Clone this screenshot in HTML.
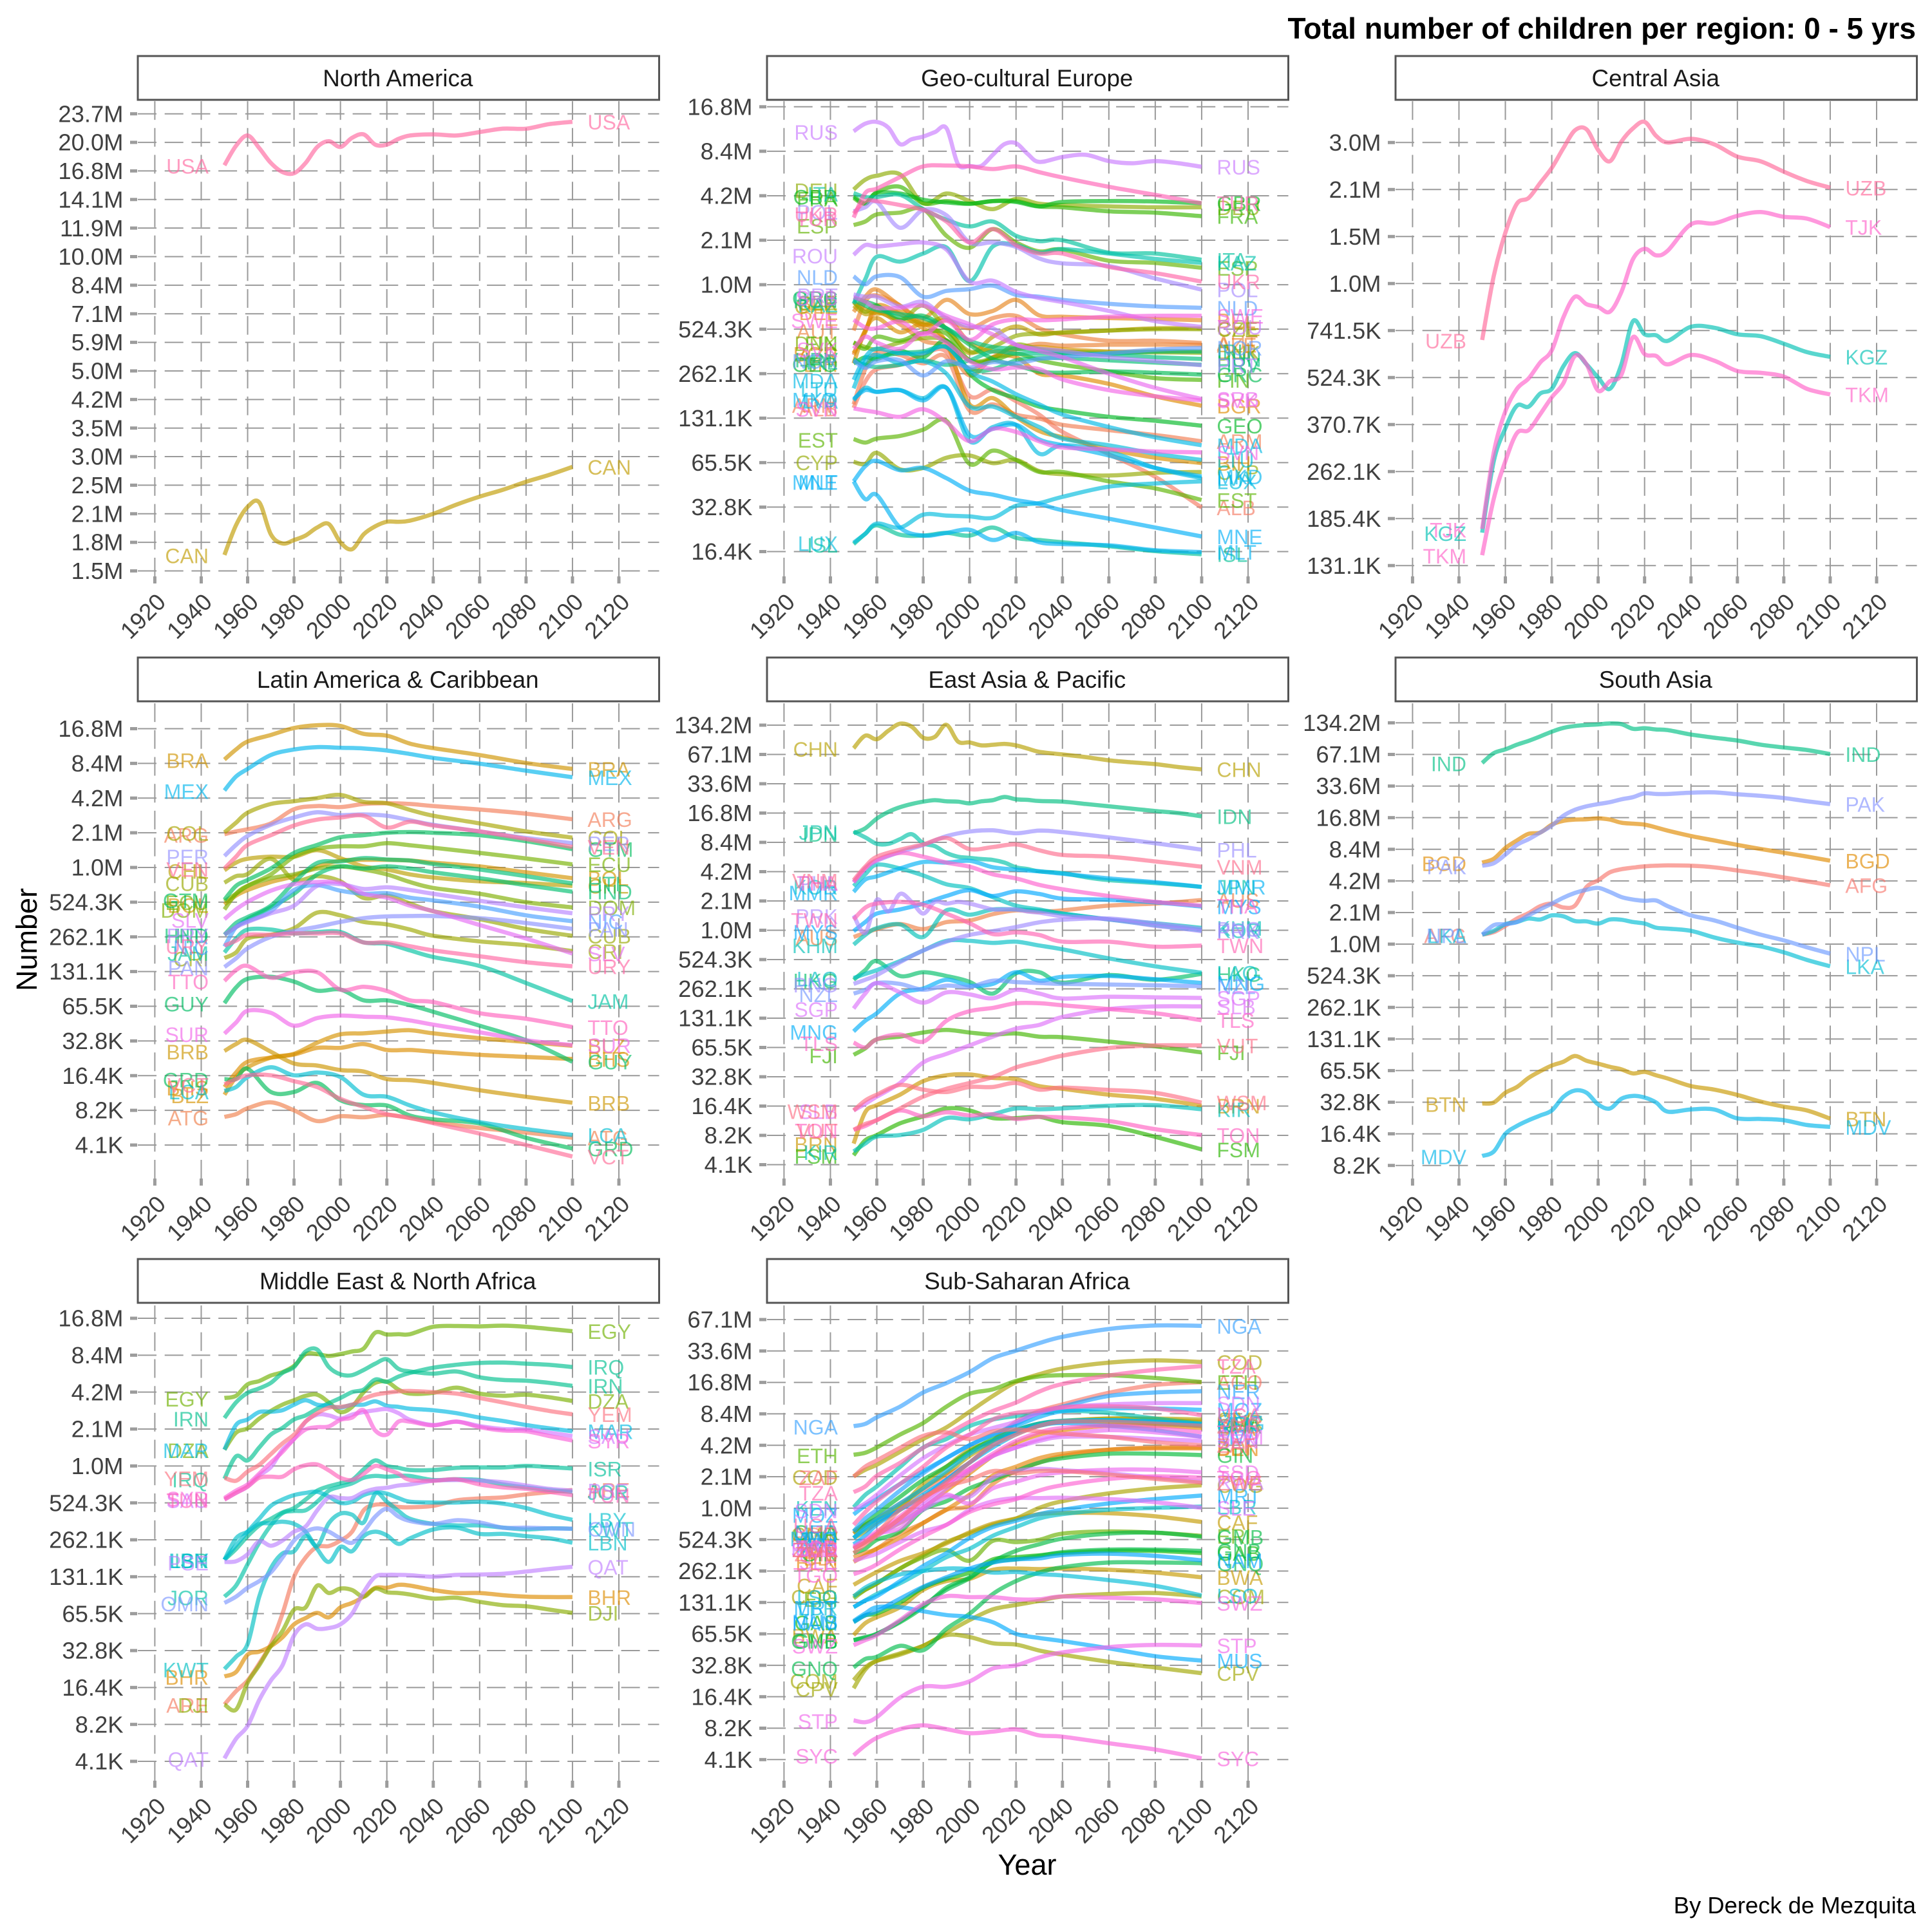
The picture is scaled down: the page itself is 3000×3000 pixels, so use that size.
<!DOCTYPE html>
<html lang="en">
<head>
<meta charset="utf-8">
<title>Total number of children per region: 0 - 5 yrs</title>
<style>
html,body{margin:0;padding:0;background:#fff;}
svg{display:block;font-family:"Liberation Sans",Arial,sans-serif;}
</style>
</head>
<body>
<svg id="chart" xmlns="http://www.w3.org/2000/svg" width="3000" height="3000" viewBox="0 0 3000 3000">
<rect x="0" y="0" width="3000" height="3000" fill="#ffffff"/>
<text x="2975" y="60" text-anchor="end" font-size="46" font-weight="700" fill="#000">Total number of children per region: 0 - 5 yrs</text>
<text transform="translate(57,1459) rotate(-90)" text-anchor="middle" font-size="45" fill="#000">Number</text>
<text x="1595" y="2911" text-anchor="middle" font-size="45" fill="#000">Year</text>
<text x="2975" y="2971" text-anchor="end" font-size="36.4" fill="#000">By Dereck de Mezquita</text>
</svg>
<script>
const yearsFine = [1950,1955,1960,1965,1970,1975,1980,1985,1990,1995,2000,2005,2010,2015,2020,2025,2030,2040,2050,2060,2070,2080,2090,2100];
const yearsCoarse = [1950,1955,1960,1970,1980,1990,2000,2010,2020,2030,2040,2060,2080,2100];
const xTickYears = [1920,1940,1960,1980,2000,2020,2040,2060,2080,2100,2120];

const ticksNorthAmerica = ['23.7M','20.0M','16.8M','14.1M','11.9M','10.0M','8.4M','7.1M','5.9M','5.0M','4.2M','3.5M','3.0M','2.5M','2.1M','1.8M','1.5M'];
const ticksEurope = ['16.8M','8.4M','4.2M','2.1M','1.0M','524.3K','262.1K','131.1K','65.5K','32.8K','16.4K'];
const ticksCentralAsia = ['3.0M','2.1M','1.5M','1.0M','741.5K','524.3K','370.7K','262.1K','185.4K','131.1K'];
const ticksLatinAmerica = ['16.8M','8.4M','4.2M','2.1M','1.0M','524.3K','262.1K','131.1K','65.5K','32.8K','16.4K','8.2K','4.1K'];
const ticksEastAsia = ['134.2M','67.1M','33.6M','16.8M','8.4M','4.2M','2.1M','1.0M','524.3K','262.1K','131.1K','65.5K','32.8K','16.4K','8.2K','4.1K'];
const ticksSouthAsia = ['134.2M','67.1M','33.6M','16.8M','8.4M','4.2M','2.1M','1.0M','524.3K','262.1K','131.1K','65.5K','32.8K','16.4K','8.2K'];
const ticksMiddleEast = ['16.8M','8.4M','4.2M','2.1M','1.0M','524.3K','262.1K','131.1K','65.5K','32.8K','16.4K','8.2K','4.1K'];
const ticksSubSaharan = ['67.1M','33.6M','16.8M','8.4M','4.2M','2.1M','1.0M','524.3K','262.1K','131.1K','65.5K','32.8K','16.4K','8.2K','4.1K'];

const seriesNorthAmerica = {
CAN:[20.64,20.9,21.06,21.1,20.82,20.74,20.77,20.81,20.88,20.91,20.75,20.69,20.82,20.89,20.93,20.93,20.94,21.0,21.08,21.15,21.21,21.28,21.34,21.41],
USA:[24.05,24.22,24.31,24.2,24.07,23.99,23.98,24.07,24.21,24.26,24.21,24.29,24.32,24.23,24.23,24.28,24.31,24.32,24.31,24.34,24.37,24.37,24.41,24.43]
};

const seriesCentralAsia = {
KGZ:[17.35,18.11,18.46,18.7,18.69,18.83,18.88,19.12,19.26,19.14,19.0,18.88,19.14,19.6,19.46,19.45,19.39,19.54,19.53,19.46,19.44,19.36,19.27,19.22],
TJK:[17.39,18.2,18.64,18.88,18.99,19.16,19.29,19.64,19.86,19.78,19.75,19.7,19.91,20.26,20.37,20.3,20.35,20.63,20.64,20.72,20.76,20.71,20.69,20.6],
TKM:[17.11,17.71,18.11,18.41,18.44,18.61,18.79,18.94,19.23,19.14,18.86,18.96,19.03,19.43,19.25,19.23,19.14,19.24,19.18,19.07,19.05,19.01,18.88,18.82],
UZB:[19.4,20.08,20.54,20.85,20.91,21.07,21.23,21.44,21.63,21.64,21.42,21.3,21.51,21.65,21.72,21.57,21.5,21.54,21.48,21.35,21.3,21.19,21.09,21.02]
};

const seriesSouthAsia = {
AFG:[20.3,20.38,20.58,20.81,20.98,21.2,21.28,21.16,21.22,21.81,22.02,22.27,22.37,22.42,22.46,22.48,22.49,22.48,22.43,22.33,22.23,22.11,21.99,21.86],
BGD:[22.58,22.7,23.04,23.28,23.49,23.53,23.78,23.9,23.94,23.95,23.98,23.94,23.84,23.81,23.78,23.69,23.59,23.42,23.28,23.14,23.01,22.89,22.77,22.64],
BTN:[14.96,14.99,15.3,15.48,15.77,15.98,16.16,16.28,16.46,16.31,16.22,16.12,16.04,15.91,15.96,15.85,15.75,15.51,15.4,15.23,15.02,14.86,14.74,14.48],
IND:[25.73,26.04,26.16,26.31,26.43,26.57,26.72,26.84,26.9,26.93,26.95,26.98,26.96,26.81,26.83,26.79,26.77,26.63,26.53,26.44,26.31,26.22,26.14,26.01],
LKA:[20.3,20.42,20.63,20.7,20.81,20.78,20.91,20.88,20.73,20.72,20.65,20.78,20.77,20.7,20.65,20.52,20.49,20.42,20.21,20.05,19.93,19.74,19.5,19.3],
MDV:[13.3,13.44,14.0,14.25,14.43,14.58,14.74,15.17,15.37,15.3,14.93,14.8,15.11,15.2,15.15,14.99,14.7,14.77,14.77,14.49,14.47,14.43,14.28,14.22],
NPL:[20.3,20.6,20.63,20.7,20.91,21.1,21.28,21.47,21.62,21.72,21.78,21.65,21.49,21.41,21.37,21.38,21.2,20.91,20.75,20.52,20.3,20.12,19.9,19.7],
PAK:[22.48,22.56,22.83,23.14,23.32,23.53,23.75,24.06,24.25,24.36,24.43,24.49,24.58,24.65,24.77,24.75,24.75,24.79,24.8,24.74,24.69,24.62,24.52,24.43]
};

const seriesMiddleEast = {
ARE:[13.54,13.9,14.19,14.65,15.18,16.0,17.0,17.52,17.81,17.83,17.98,18.22,18.8,18.95,18.95,18.89,18.88,18.92,19.07,19.12,19.15,19.23,19.29,19.35],
BHR:[14.3,14.42,14.89,14.97,15.12,15.36,15.71,15.88,16.02,15.9,16.17,16.29,16.46,16.7,16.7,16.78,16.76,16.64,16.56,16.56,16.5,16.46,16.45,16.45],
DJI:[13.54,13.4,14.13,14.6,15.12,15.53,16.11,16.17,16.76,16.56,16.68,16.64,16.46,16.68,16.58,16.56,16.52,16.41,16.43,16.32,16.23,16.2,16.11,16.02],
DZA:[20.44,20.9,21.02,21.28,21.49,21.66,21.78,21.9,21.93,21.72,21.46,21.6,22.0,22.25,22.28,22.07,21.96,21.98,22.12,21.96,21.9,21.93,21.86,21.76],
EGY:[21.84,21.9,22.21,22.3,22.45,22.54,22.71,23.03,23.03,22.98,23.03,23.1,23.18,23.61,23.56,23.57,23.57,23.77,23.79,23.78,23.8,23.77,23.71,23.65],
IRN:[21.3,21.72,21.98,22.1,22.25,22.52,22.68,23.1,23.15,22.68,22.48,22.46,22.6,22.77,22.89,22.63,22.56,22.5,22.56,22.4,22.33,22.31,22.25,22.17],
IRQ:[19.65,20.26,20.15,20.5,20.85,21.03,21.26,21.37,21.55,21.7,21.84,22.0,22.07,22.34,22.28,22.42,22.52,22.66,22.74,22.79,22.8,22.77,22.74,22.68],
ISR:[17.46,17.75,18.1,18.39,18.57,18.74,18.86,19.09,19.33,19.45,19.53,19.62,19.91,20.15,20.0,19.95,19.89,19.89,19.95,19.96,19.96,20.0,19.97,19.93],
JOR:[16.46,16.76,17.34,17.92,18.39,18.72,18.78,18.8,19.03,19.33,19.44,19.53,19.68,19.73,19.71,19.73,19.73,19.62,19.64,19.62,19.5,19.42,19.35,19.29],
KWT:[14.5,14.83,15.18,16.46,17.23,17.63,17.69,18.1,17.84,18.45,18.71,18.68,18.47,19.25,19.03,18.78,18.57,18.43,18.39,18.39,18.33,18.28,18.31,18.3],
LBN:[17.46,18.04,18.22,18.43,18.45,18.49,18.43,18.22,17.75,17.4,17.81,17.69,18.1,18.22,18.12,17.89,18.04,18.28,18.33,18.16,18.16,18.1,18.04,17.92],
LBY:[17.46,17.85,18.22,18.57,18.92,19.09,19.21,19.27,19.3,19.17,19.0,19.03,19.21,19.29,19.25,19.13,19.03,19.01,19.01,19.03,18.98,18.86,18.68,18.54],
MAR:[20.44,21.11,21.26,21.46,21.47,21.51,21.66,21.78,21.66,21.63,21.58,21.66,21.66,21.75,21.63,21.6,21.55,21.51,21.43,21.31,21.22,21.11,21.02,20.94],
OMN:[16.29,16.46,16.7,16.88,17.12,17.52,17.98,18.22,18.31,18.22,18.04,17.92,18.22,18.63,18.84,18.63,18.51,18.43,18.53,18.47,18.33,18.33,18.31,18.3],
PSE:[17.4,17.42,17.61,17.96,17.84,17.98,18.22,18.36,18.8,19.15,19.13,19.13,19.29,19.38,19.41,19.47,19.5,19.6,19.62,19.6,19.56,19.47,19.38,19.33],
QAT:[12.08,12.61,12.96,13.66,14.19,14.6,15.41,15.71,15.59,15.61,15.71,16.0,16.58,17.0,17.05,17.05,17.04,17.0,17.05,17.06,17.08,17.14,17.21,17.27],
SAU:[19.09,19.27,19.44,19.74,19.97,20.44,20.73,21.2,21.39,21.37,21.28,21.39,21.46,21.51,21.54,21.43,21.25,21.11,21.2,21.08,21.0,20.99,20.9,20.81],
SYR:[19.13,19.33,19.5,19.79,20.09,20.38,20.73,20.99,21.05,21.07,21.25,21.31,21.51,20.96,20.85,21.2,21.2,21.1,21.2,21.05,20.96,20.94,20.81,20.69],
TUN:[19.09,19.27,19.44,19.68,19.71,19.71,19.91,20.02,20.04,19.88,19.68,19.62,19.79,20.0,19.91,19.79,19.62,19.6,19.64,19.5,19.42,19.38,19.3,19.21],
YEM:[19.68,19.6,19.85,20.03,20.32,20.61,20.85,21.2,21.43,21.58,21.6,21.66,21.82,21.93,21.98,22.02,22.03,22.0,21.96,21.84,21.72,21.6,21.49,21.4]
};

const seriesLatinAmerica = {
ARG:[20.96,21.04,21.1,21.27,21.68,21.77,21.74,21.83,21.85,21.83,21.77,21.67,21.55,21.39],
ATG:[12.81,12.89,13.06,13.23,13.0,12.69,12.83,12.8,12.87,12.78,12.66,12.49,12.36,12.21],
BHS:[13.67,14.09,14.4,14.52,14.61,14.8,14.8,14.91,14.74,14.74,14.69,14.6,14.54,14.48],
BLZ:[13.45,13.96,14.24,14.52,14.63,14.95,15.19,15.22,15.27,15.31,15.22,15.08,14.97,14.86],
BOL:[18.93,19.19,19.35,19.58,19.75,20.03,20.2,20.22,20.22,20.2,20.14,20.03,19.86,19.69],
BRA:[23.11,23.4,23.63,23.82,24.02,24.1,24.08,23.85,23.8,23.57,23.44,23.24,23.01,22.84],
BRB:[14.71,14.91,15.03,14.69,14.35,14.29,14.16,14.12,13.9,13.87,13.79,13.58,13.39,13.22],
CHL:[19.92,20.14,20.25,20.31,20.31,20.5,20.27,20.03,19.94,19.8,19.71,19.6,19.55,19.47],
COL:[21.01,21.29,21.58,21.83,21.91,22.0,22.09,21.89,21.85,21.66,21.49,21.27,21.04,20.86],
CRI:[17.39,17.55,17.95,18.06,18.25,18.7,18.62,18.43,18.36,18.21,18.03,17.87,17.76,17.59],
CUB:[19.56,19.75,19.81,20.25,19.64,19.75,19.6,19.12,19.19,18.96,18.74,18.51,18.23,18.03],
DOM:[18.79,19.24,19.47,19.69,19.8,19.97,20.03,19.94,19.8,19.58,19.41,19.24,19.0,18.85],
ECU:[19.02,19.24,19.47,19.8,20.31,20.54,20.61,20.61,20.7,20.64,20.57,20.42,20.26,20.09],
GRD:[13.9,13.9,14.2,13.53,13.53,13.79,13.29,13.15,13.14,12.85,12.74,12.62,12.21,11.9],
GTM:[19.07,19.47,19.64,19.97,20.42,20.65,20.87,20.93,21.0,21.02,21.0,20.93,20.76,20.53],
GUY:[16.09,16.54,16.79,16.85,16.71,16.45,16.48,16.17,16.17,16.03,15.84,15.44,15.02,14.4],
HND:[18.06,18.28,18.51,18.85,19.24,19.8,20.03,19.97,20.03,19.97,19.86,19.69,19.49,19.3],
HTI:[18.06,18.4,18.57,18.9,19.57,20.13,20.17,20.27,20.23,20.2,20.1,19.94,19.75,19.54],
JAM:[17.55,17.95,18.21,18.21,18.1,18.14,18.14,17.84,17.8,17.61,17.42,17.16,16.67,16.15],
LCA:[13.56,13.67,13.96,14.24,14.01,14.09,13.96,13.45,13.39,13.14,12.94,12.66,12.46,12.29],
MEX:[22.22,22.62,22.84,23.24,23.4,23.47,23.45,23.43,23.37,23.27,23.16,22.99,22.79,22.6],
NIC:[17.72,18.28,18.45,18.74,19.35,19.49,19.33,19.24,19.26,19.13,19.05,18.87,18.62,18.45],
PAN:[17.13,17.38,17.67,18.0,18.17,18.29,18.43,18.54,18.59,18.6,18.6,18.54,18.4,18.23],
PER:[20.33,20.65,20.91,21.23,21.44,21.59,21.51,21.53,21.49,21.36,21.23,21.04,20.85,20.7],
PRY:[18.06,18.28,18.43,18.68,18.9,19.47,19.52,19.38,19.43,19.35,19.24,19.04,18.85,18.68],
SLV:[18.51,18.79,19.01,19.33,19.52,19.58,19.56,19.24,19.13,18.9,18.74,18.34,17.95,17.52],
SUR:[15.21,15.53,15.87,15.81,15.44,15.66,15.73,15.7,15.68,15.59,15.47,15.25,15.02,14.88],
TTO:[16.73,17.04,17.16,16.82,16.98,16.98,16.48,16.56,16.44,16.17,16.12,15.8,15.64,15.4],
URY:[17.75,17.89,18.06,18.06,18.1,18.1,18.1,17.84,17.84,17.73,17.61,17.44,17.27,17.15],
VCT:[13.75,13.9,14.01,14.01,13.84,13.67,13.33,13.1,12.89,12.78,12.63,12.33,12.0,11.67],
VEN:[19.97,20.31,20.65,20.93,21.21,21.38,21.44,21.49,21.15,21.32,21.21,21.04,20.82,20.59]
};

const seriesEastAsia = {
AUS:[19.77,19.91,20.04,20.21,20.04,20.28,20.33,20.55,20.68,20.63,20.68,20.84,20.91,21.03],
BRN:[12.72,13.79,14.03,14.39,14.85,15.05,15.08,14.96,14.92,14.68,14.59,14.39,14.25,14.01],
CHN:[26.21,26.64,26.52,26.81,27.05,26.95,26.57,26.6,27.01,26.44,26.41,26.31,26.33,26.36,26.31,26.2,26.09,26.0,25.91,25.8,25.73,25.67,25.57,25.49],
FJI:[15.75,15.97,16.28,16.37,16.51,16.6,16.51,16.44,16.48,16.37,16.35,16.2,16.04,15.83],
FSM:[12.32,12.83,13.01,13.41,13.65,13.92,13.85,13.59,13.59,13.63,13.45,13.32,12.95,12.52],
HKG:[18.31,18.64,18.95,18.44,18.57,18.44,18.24,17.84,18.53,18.57,18.21,18.47,18.31,18.51],
IDN:[23.31,23.48,23.81,24.04,24.2,24.31,24.39,24.44,24.4,24.39,24.33,24.4,24.44,24.55,24.47,24.45,24.41,24.39,24.31,24.23,24.15,24.07,24.0,23.89],
JPN:[23.37,23.17,22.95,22.95,23.11,23.28,22.97,22.87,22.64,22.51,22.47,22.43,22.4,22.31,22.15,22.09,22.01,21.95,21.81,21.71,21.66,21.61,21.55,21.48],
KHM:[19.51,19.84,20.07,20.2,19.77,20.68,20.53,20.71,20.71,20.67,20.57,20.37,20.24,20.08],
KIR:[12.45,12.72,12.96,13.01,13.19,13.59,13.55,13.72,13.92,13.89,13.92,14.01,14.03,13.89],
KOR:[21.51,21.91,22.24,22.11,21.87,21.57,21.44,21.13,20.84,20.71,20.57,20.37,20.17,20.0],
LAO:[18.37,18.51,18.64,18.95,19.31,19.64,19.64,19.57,19.61,19.48,19.35,19.04,18.77,18.55],
MMR:[21.31,21.73,21.84,22.11,22.33,22.31,22.37,22.15,22.07,22.01,21.93,21.77,21.64,21.48],
MNG:[16.55,16.91,17.17,17.84,18.01,18.31,18.11,18.17,18.57,18.28,18.41,18.44,18.33,18.2],
MYS:[19.97,20.28,20.57,20.71,20.91,21.17,21.37,21.17,21.33,21.24,21.08,21.04,20.95,20.81],
NZL:[17.84,17.97,18.2,18.17,17.97,18.11,18.07,18.28,18.23,18.2,18.17,18.15,18.12,18.09],
PHL:[21.64,22.11,22.37,22.67,22.91,23.21,23.37,23.41,23.31,23.4,23.35,23.17,22.97,22.75],
PNG:[18.17,18.31,18.47,18.91,19.31,19.61,19.84,19.97,20.11,20.27,20.36,20.4,20.23,20.04],
PRK:[20.51,19.91,21.04,20.64,21.24,20.97,20.57,20.97,20.91,20.97,20.91,20.81,20.71,20.71,20.71,20.64,20.6,20.48,20.44,20.37,20.27,20.15,20.07,19.97],
SGP:[17.33,17.84,18.2,17.88,17.53,17.88,17.81,17.68,17.97,17.84,17.67,17.73,17.71,17.69],
SLB:[13.85,14.08,14.32,14.79,15.49,15.78,16.07,16.37,16.64,16.77,17.04,17.31,17.4,17.4],
THA:[21.64,22.11,22.4,22.64,22.51,22.31,22.17,21.91,21.77,21.55,21.4,21.17,20.97,20.84],
TLS:[16.17,16.0,16.28,16.44,16.2,16.91,17.24,17.35,17.51,17.51,17.44,17.31,17.17,16.93],
TON:[13.19,13.32,13.52,13.85,13.65,13.79,13.68,13.72,13.56,13.63,13.61,13.49,13.21,13.01],
TWN:[20.37,20.77,20.91,20.97,20.87,20.57,20.24,19.87,19.93,19.84,19.61,19.61,19.44,19.48],
VNM:[21.71,22.17,22.51,22.75,22.93,23.15,22.77,22.84,22.93,22.73,22.57,22.51,22.35,22.17],
VUT:[13.19,13.39,13.52,13.92,14.32,14.59,14.79,14.99,15.32,15.52,15.72,15.98,16.07,16.07],
WSM:[13.85,14.19,14.39,14.72,14.56,14.48,14.65,14.65,14.79,14.56,14.63,14.55,14.45,14.12]
};

const seriesEurope = {
ALB:[17.23,17.82,18.1,18.2,18.44,18.49,17.5,17.64,17.38,17.08,16.69,16.19,15.68,14.99],
ARM:[17.31,18.1,18.47,18.42,18.23,18.37,17.17,17.31,17.08,16.99,16.85,16.73,16.62,16.48],
AUT:[18.97,19.62,19.76,19.53,19.11,19.2,19.02,19.25,19.3,19.02,18.88,18.74,18.74,18.69],
AZE:[18.42,18.97,19.39,19.11,18.74,18.6,17.96,18.37,18.56,18.67,18.63,18.65,18.65,18.65],
BEL:[19.39,19.73,19.89,19.53,19.25,19.66,19.34,19.41,19.66,19.31,19.28,19.25,19.23,19.2],
BGR:[18.46,18.93,19.53,19.34,19.02,18.74,18.1,18.37,18.37,18.0,17.96,17.77,17.49,17.28],
BIH:[18.23,18.97,19.25,18.93,19.11,18.7,17.31,17.45,17.03,16.71,16.57,16.3,16.11,15.99],
BLR:[19.6,19.45,19.35,19.4,19.1,19.25,18.7,18.5,18.55,18.6,18.55,18.5,18.5,18.5],
CHE:[19.53,19.34,19.39,19.2,19.16,19.02,18.46,18.83,19.06,18.88,18.93,18.97,19.02,19.02],
CYP:[16.02,15.97,16.22,15.85,15.88,16.11,16.16,15.99,16.06,15.81,15.74,15.71,15.77,15.79],
CZE:[19.62,19.39,19.53,19.2,19.53,19.0,18.5,18.6,18.85,18.9,18.92,18.97,19.0,19.0],
DEU:[22.14,22.36,22.45,22.48,21.83,22.05,21.88,21.7,21.93,21.82,21.79,21.76,21.74,21.74],
DNK:[18.7,18.6,18.55,18.7,18.8,18.75,18.3,18.35,18.65,18.55,18.5,18.48,18.48,18.47],
ESP:[21.34,21.42,21.58,21.62,21.7,21.1,20.83,21.25,20.95,20.75,20.79,20.54,20.49,20.38],
EST:[16.53,16.45,16.54,16.6,16.74,16.94,15.97,16.27,16.06,15.79,15.79,15.58,15.42,15.16],
FIN:[18.7,18.56,18.83,18.74,18.93,18.9,18.3,18.3,18.45,18.3,18.2,18.05,17.9,17.86],
FRA:[21.95,21.82,22.08,22.2,21.83,21.88,21.82,21.88,21.88,21.76,21.74,21.65,21.62,21.54],
GBR:[21.99,21.83,22.06,22.05,21.91,21.85,21.82,21.88,21.86,21.76,21.86,21.88,21.87,21.83],
GEO:[18.23,18.37,18.33,18.51,18.37,18.74,18.0,17.63,17.45,17.26,17.17,17.03,16.94,16.83],
GRC:[19.71,19.62,19.53,19.25,19.3,19.02,18.65,18.33,18.19,18.05,18.02,18.05,18.02,17.98],
HRV:[18.33,18.2,18.37,18.46,18.5,18.6,18.1,18.1,18.3,18.35,18.35,18.3,18.25,18.2],
HUN:[19.66,19.53,19.43,19.34,19.25,19.02,18.74,18.6,18.56,18.51,18.46,18.42,18.37,18.33],
IRL:[18.28,18.2,18.15,18.2,18.3,18.2,18.3,18.5,18.45,18.45,18.45,18.45,18.5,18.5],
ISL:[14.17,14.4,14.59,14.38,14.36,14.42,14.36,14.54,14.31,14.26,14.21,14.12,14.01,13.94],
ITA:[22.06,21.97,21.97,22.02,21.7,21.46,21.31,21.42,21.1,20.98,21.0,20.72,20.7,20.56],
KAZ:[19.57,20.12,20.63,20.52,20.7,20.84,20.08,20.86,20.89,20.72,20.8,20.7,20.58,20.49],
LTU:[17.67,18.28,18.42,18.23,18.28,18.0,17.26,17.26,17.03,16.8,16.54,16.39,16.2,16.06],
LUX:[14.2,14.4,14.63,14.54,14.83,14.81,14.79,14.76,15.03,15.09,15.23,15.46,15.53,15.58],
LVA:[17.4,17.68,17.59,17.63,17.45,17.68,16.48,16.8,16.85,16.2,16.39,16.25,15.88,15.65],
MDA:[17.86,18.37,18.56,18.46,18.46,18.6,18.05,17.82,17.54,17.31,17.08,16.8,16.57,16.39],
MKD:[17.43,17.63,17.59,17.63,17.4,17.68,16.62,16.76,16.85,16.52,16.39,16.16,15.88,15.69],
MLT:[15.58,15.18,15.27,14.54,14.36,14.42,14.49,14.26,14.42,14.21,14.17,14.14,14.03,13.99],
MNE:[15.58,15.92,16.04,15.83,15.88,15.65,15.37,15.28,15.16,15.07,14.93,14.74,14.54,14.34],
NLD:[20.19,20.01,20.19,20.17,19.73,19.86,19.9,19.98,19.77,19.73,19.66,19.57,19.51,19.48],
NOR:[18.3,18.13,18.28,18.3,17.96,18.28,18.14,18.26,18.23,18.33,18.37,18.46,18.54,18.58],
POL:[21.65,21.74,21.86,21.28,21.68,21.56,20.95,20.95,20.85,20.59,20.48,20.42,20.14,19.89],
PRT:[19.78,19.73,19.73,19.51,19.61,19.24,19.06,19.02,18.65,18.56,18.51,18.37,18.28,18.19],
ROU:[20.67,20.89,20.86,20.91,20.95,20.79,20.07,20.09,19.84,19.7,19.61,19.41,19.18,19.05],
RUS:[23.45,23.62,23.66,23.53,23.16,23.27,23.33,23.43,23.52,22.71,22.67,22.67,22.92,23.16,23.18,22.94,22.76,22.87,22.92,22.78,22.73,22.78,22.73,22.65],
SRB:[19.72,19.62,19.48,19.48,19.53,19.3,19.11,18.88,18.65,18.51,18.37,18.0,17.68,17.43],
SVK:[18.56,18.83,18.7,18.56,18.91,18.7,18.28,18.1,18.14,18.1,17.87,17.63,17.49,17.4],
SVN:[17.22,17.17,17.13,17.03,17.2,16.91,16.48,16.76,16.69,16.48,16.34,16.3,16.25,16.23],
SWE:[19.21,19.04,19.02,19.17,18.88,19.19,18.76,19.11,19.22,19.2,19.22,19.28,19.3,19.3],
TUR:[21.51,22.06,22.16,22.42,22.66,22.68,22.66,22.6,22.66,22.53,22.41,22.2,22.02,21.83],
UKR:[21.6,21.88,21.88,21.79,21.68,21.42,20.95,21.25,20.89,20.7,20.7,20.4,20.26,20.07]
};

const seriesSubSaharan = {
AGO:[19.19,19.47,19.67,20.15,20.56,21.04,21.45,22.14,22.75,23.09,23.3,23.67,23.92,24.01],
BDI:[18.44,18.58,18.71,19.19,19.53,19.95,20.08,20.77,21.18,21.45,21.66,21.86,21.93,21.93],
BEN:[18.29,18.5,18.71,19.05,19.53,19.95,20.43,21.04,21.32,21.59,21.73,21.86,21.9,21.9],
BFA:[18.71,18.92,19.19,19.53,20.01,20.56,21.11,21.66,22.07,22.34,22.48,22.62,22.62,22.55],
BWA:[15.96,16.34,16.53,16.85,17.4,17.68,17.75,18.04,18.08,18.06,18.08,18.04,17.95,17.8],
CAF:[17.56,17.77,17.97,18.32,18.57,18.88,19.23,19.51,19.67,19.81,19.85,19.84,19.74,19.56],
CIV:[19.05,19.26,19.53,20.01,20.77,21.32,21.86,22.14,22.41,22.62,22.75,22.85,22.85,22.82],
CMR:[19.19,19.46,19.67,20.08,20.63,21.11,21.66,22.14,22.48,22.69,22.78,22.85,22.82,22.75],
COD:[21.01,21.22,21.38,21.79,22.2,22.57,23.07,23.57,24.01,24.26,24.44,24.63,24.7,24.65],
COG:[17.2,17.4,17.6,18.08,18.5,18.92,19.19,19.47,19.67,20.01,20.22,20.47,20.63,20.73],
COM:[14.53,14.93,15.14,15.34,15.62,16.03,16.44,16.78,16.92,17.05,17.19,17.27,17.3,17.19],
CPV:[14.27,14.86,15.14,15.38,15.62,15.96,15.9,15.7,15.66,15.47,15.34,15.11,14.93,14.75],
ERI:[17.13,17.4,17.6,18.08,18.44,18.67,18.33,18.96,18.92,18.99,19.19,19.26,19.22,19.12],
ETH:[21.7,21.76,21.93,22.34,22.71,23.23,23.64,23.78,24.05,24.19,24.23,24.23,24.14,24.01],
GAB:[16.38,16.59,16.65,17.0,17.47,17.75,17.95,18.37,18.44,18.5,18.57,18.64,18.64,18.57],
GHA:[19.26,19.53,19.81,20.36,20.9,21.32,21.8,22.2,22.48,22.69,22.75,22.75,22.69,22.62],
GIN:[18.57,18.71,18.99,19.26,19.95,20.22,20.63,20.9,21.18,21.45,21.59,21.73,21.73,21.69],
GMB:[15.8,15.9,16.0,16.37,16.85,17.47,17.8,18.3,18.64,18.85,19.03,19.19,19.22,19.09],
GNB:[15.8,15.87,16.0,16.4,16.9,17.4,17.77,18.27,18.37,18.48,18.6,18.68,18.68,18.64],
GNQ:[14.93,15.2,15.27,15.62,15.48,16.16,16.64,17.27,17.68,17.95,18.12,18.27,18.27,18.25],
KEN:[20.03,20.42,20.69,21.31,21.93,22.2,22.61,22.82,22.93,23.03,23.1,23.03,22.85,22.68],
LBR:[16.85,17.06,17.27,17.61,18.01,18.44,18.71,19.12,19.4,19.67,19.81,19.95,20.01,20.05],
LSO:[17.19,17.47,17.65,17.89,18.0,18.08,18.06,17.95,17.97,17.9,17.86,17.71,17.53,17.22],
MDG:[19.05,19.4,19.67,20.15,20.63,21.18,21.73,22.14,22.48,22.69,22.78,22.8,22.75,22.69],
MLI:[19.05,19.33,19.6,19.95,20.43,20.9,21.45,21.93,22.34,22.62,22.75,22.8,22.75,22.65],
MOZ:[19.8,20.08,20.29,20.77,21.18,21.59,22.0,22.34,22.62,22.9,23.08,23.17,23.17,23.13],
MRT:[16.85,17.06,17.2,17.68,18.16,18.57,19.05,19.4,19.6,19.81,19.95,20.15,20.29,20.4],
MUS:[16.41,16.65,16.85,16.85,16.72,16.6,16.54,16.37,16.0,15.87,15.77,15.54,15.29,15.15],
MWI:[18.85,19.12,19.47,19.95,20.36,20.9,21.45,22.0,22.41,22.62,22.71,22.62,22.48,22.27],
NAM:[16.37,16.59,16.72,17.12,17.5,17.8,18.08,18.27,18.37,18.4,18.51,18.55,18.48,18.34],
NER:[19.26,19.67,19.95,20.56,21.11,21.59,22.0,22.34,22.68,23.03,23.23,23.57,23.68,23.72],
NGA:[22.61,22.68,22.89,23.23,23.68,23.98,24.33,24.77,25.01,25.25,25.45,25.7,25.81,25.8],
RWA:[18.71,18.92,19.12,19.53,19.95,20.36,20.36,20.97,21.18,21.25,21.21,21.11,20.97,20.84],
SDN:[19.95,20.15,20.43,21.04,21.59,22.0,22.34,22.55,22.75,23.03,23.2,23.3,23.34,23.34],
SEN:[18.71,18.92,19.19,19.6,20.08,20.63,21.18,21.66,21.93,22.14,22.27,22.27,22.2,22.14],
SLE:[18.32,18.44,18.55,18.92,19.26,19.47,19.95,20.22,20.32,20.32,20.33,20.29,20.19,20.01],
SOM:[18.71,18.92,19.19,19.67,20.22,20.77,21.25,21.66,21.93,22.2,22.34,22.48,22.41,22.27],
SSD:[18.75,18.92,19.19,19.36,20.01,20.43,20.15,20.63,20.84,21.04,21.14,21.22,21.22,21.14],
STP:[13.25,13.19,13.35,13.97,14.32,14.32,14.49,14.9,15.0,15.25,15.41,15.58,15.65,15.63],
SWZ:[15.64,15.8,15.96,16.44,16.95,17.2,17.17,17.17,17.1,17.1,17.19,17.15,17.1,16.98],
SYC:[12.14,12.45,12.69,12.97,13.09,12.97,12.84,12.89,12.96,12.77,12.73,12.52,12.32,12.04],
TCD:[18.78,18.99,19.26,19.74,20.29,20.77,21.25,21.73,22.14,22.41,22.55,22.62,22.55,22.41],
TGO:[17.9,18.03,18.21,18.69,19.1,19.47,19.88,20.12,20.29,20.56,20.73,20.93,21.01,20.97],
TZA:[20.51,20.69,21.03,21.44,21.92,22.34,22.75,23.09,23.36,23.71,23.95,24.22,24.4,24.52],
UGA:[19.47,19.87,20.22,20.77,21.32,21.93,22.34,22.82,23.03,23.1,23.21,23.24,23.17,22.96],
ZAF:[21.0,21.32,21.52,21.92,22.3,22.41,22.2,22.44,22.5,22.44,22.37,22.27,22.1,22.0],
ZMB:[18.57,18.85,19.12,19.67,20.29,20.84,21.45,22.0,22.34,22.62,22.75,22.75,22.69,22.62],
ZWE:[18.71,18.92,19.19,19.95,20.36,20.7,20.9,21.18,21.11,21.18,21.18,21.07,20.93,20.81]
};

// Layout of the facet grid and calibration of each log2 y-axis.
const NS = 'http://www.w3.org/2000/svg';
const root = document.getElementById('chart');
const COL_LEFT = [214, 1191, 2167];
const ROW_STRIP_TOP = [87, 1021, 1955];
const ROW_BOTTOM = [895, 1830, 2765];
const PANEL_W = 809.5, STRIP_H = 68;

const panels = [
  {title:'North America', col:0, row:0, series:seriesNorthAmerica, ticks:ticksNorthAmerica, eTop:24.5, step:0.25, yTop:176.7, yBot:886.5},
  {title:'Geo-cultural Europe', col:1, row:0, series:seriesEurope, ticks:ticksEurope, eTop:24, step:1, yTop:165.8, yBot:856.5},
  {title:'Central Asia', col:2, row:0, series:seriesCentralAsia, ticks:ticksCentralAsia, eTop:21.5, step:0.5, yTop:221.3, yBot:878.2},
  {title:'Latin America & Caribbean', col:0, row:1, series:seriesLatinAmerica, ticks:ticksLatinAmerica, eTop:24, step:1, yTop:1131.5, yBot:1778},
  {title:'East Asia & Pacific', col:1, row:1, series:seriesEastAsia, ticks:ticksEastAsia, eTop:27, step:1, yTop:1126, yBot:1808.5},
  {title:'South Asia', col:2, row:1, series:seriesSouthAsia, ticks:ticksSouthAsia, eTop:27, step:1, yTop:1122.4, yBot:1809.7},
  {title:'Middle East & North Africa', col:0, row:2, series:seriesMiddleEast, ticks:ticksMiddleEast, eTop:24, step:1, yTop:2047, yBot:2735},
  {title:'Sub-Saharan Africa', col:1, row:2, series:seriesSubSaharan, ticks:ticksSubSaharan, eTop:26, step:1, yTop:2049, yBot:2732.3}
];

// Hue palette: one evenly spaced HCL hue per country code, alphabetical.
function hclColor(h, c, l) {
  const rad = h * Math.PI / 180;
  const U = c * Math.cos(rad), V = c * Math.sin(rad);
  const Y = l > 8 ? Math.pow((l + 16) / 116, 3) : l / 903.3;
  const u = U / (13 * l) + 0.1978398, v = V / (13 * l) + 0.4683363;
  const X = 9 * Y * u / (4 * v);
  const Z = -X / 3 - 5 * Y + 3 * Y / v;
  const lin = [
    3.240479 * X - 1.53715 * Y - 0.498535 * Z,
    -0.969256 * X + 1.875992 * Y + 0.041556 * Z,
    0.055648 * X - 0.204043 * Y + 1.057311 * Z
  ];
  const rgb = lin.map(function (t) {
    const g = t > 0.00304 ? 1.055 * Math.pow(t, 1 / 2.4) - 0.055 : 12.92 * t;
    return Math.max(0, Math.min(255, Math.round(g * 255)));
  });
  return 'rgb(' + rgb.join(',') + ')';
}
const allCodes = [];
panels.forEach(function (p) { Object.keys(p.series).forEach(function (k) { allCodes.push(k); }); });
allCodes.sort();
function colorFor(code) {
  return hclColor(15 + 360 * allCodes.indexOf(code) / allCodes.length, 100, 65);
}

function make(tag, attrs, parent) {
  const el = document.createElementNS(NS, tag);
  Object.keys(attrs).forEach(function (k) { el.setAttribute(k, attrs[k]); });
  parent.appendChild(el);
  return el;
}

// Smooth path through the knots (Catmull-Rom to cubic Bezier).
function smoothPath(pts) {
  let d = 'M' + pts[0][0].toFixed(1) + ' ' + pts[0][1].toFixed(1);
  for (let i = 0; i < pts.length - 1; i++) {
    const p0 = pts[Math.max(0, i - 1)], p1 = pts[i], p2 = pts[i + 1], p3 = pts[Math.min(pts.length - 1, i + 2)];
    const c1x = p1[0] + (p2[0] - p0[0]) / 6, c1y = p1[1] + (p2[1] - p0[1]) / 6;
    const c2x = p2[0] - (p3[0] - p1[0]) / 6, c2y = p2[1] - (p3[1] - p1[1]) / 6;
    d += 'C' + c1x.toFixed(1) + ' ' + c1y.toFixed(1) + ' ' + c2x.toFixed(1) + ' ' + c2y.toFixed(1) + ' ' + p2[0].toFixed(1) + ' ' + p2[1].toFixed(1);
  }
  return d;
}

panels.forEach(function (p) {
  const left = COL_LEFT[p.col];
  const right = left + PANEL_W;
  const stripTop = ROW_STRIP_TOP[p.row];
  const top = stripTop + STRIP_H;
  const bottom = ROW_BOTTOM[p.row];
  const slug = p.title.toLowerCase().replace(/[^a-z]+/g, '-');
  const xScale = function (year) { return left + 26.4 + (year - 1920) * 3.603; };
  const eBot = p.eTop - p.step * (p.ticks.length - 1);
  const yScale = function (e) { return p.yTop + (p.eTop - e) * (p.yBot - p.yTop) / (p.eTop - eBot); };

  const g = make('g', {}, root);
  
  

  // y grid, ticks and tick labels
  p.ticks.forEach(function (label, i) {
    const y = yScale(p.eTop - i * p.step);
    const grid = make('line', {x1:left, x2:right, y1:y, y2:y, stroke:'#9a9a9a', 'stroke-width':2, 'stroke-dasharray':'29 12.7'}, g);
    
    
    const tick = make('line', {x1:left - 12, x2:left - 1, y1:y, y2:y, stroke:'#9c9c9c', 'stroke-width':5}, g);
    
    
    const txt = make('text', {x:left - 22.5, y:y + 12.6, 'text-anchor':'end', 'font-size':36.4, fill:'#404040'}, g);
    
    
    txt.textContent = label;
  });

  // x grid, ticks and tick labels
  xTickYears.forEach(function (year) {
    const x = xScale(year);
    const grid = make('line', {x1:x, x2:x, y1:bottom, y2:top, stroke:'#9a9a9a', 'stroke-width':2, 'stroke-dasharray':'29 12.7'}, g);
    
    
    const tick = make('line', {x1:x, x2:x, y1:bottom, y2:bottom + 11, stroke:'#9c9c9c', 'stroke-width':5}, g);
    
    
    const txt = make('text', {transform:'translate(' + (x + 19).toFixed(1) + ',' + (bottom + 42) + ') rotate(-45)', 'text-anchor':'end', 'font-size':36.4, fill:'#404040'}, g);
    
    
    txt.textContent = String(year);
  });

  // strip
  const strip = make('rect', {x:left, y:stripTop, width:PANEL_W, height:STRIP_H, fill:'#ffffff', stroke:'#555555', 'stroke-width':3}, g);
  
  
  const stripText = make('text', {x:left + PANEL_W / 2 - 1, y:stripTop + 47, 'text-anchor':'middle', 'font-size':36.8, fill:'#1a1a1a'}, g);
  
  
  stripText.textContent = p.title;

  // series
  Object.keys(p.series).sort().forEach(function (code) {
    const values = p.series[code];
    const years = values.length === yearsFine.length ? yearsFine : yearsCoarse;
    const pts = values.map(function (v, i) { return [xScale(years[i]), yScale(v)]; });
    const color = colorFor(code);
    const name = code.toLowerCase();
    const path = make('path', {d:smoothPath(pts), fill:'none', stroke:color, 'stroke-width':6.5, 'stroke-opacity':0.65, 'stroke-linejoin':'round'}, g);
    
    
    const startLabel = make('text', {x:xScale(1943.2), y:pts[0][1] + 13, 'text-anchor':'end', 'font-size':32, fill:color, 'fill-opacity':0.65}, g);
    
    
    startLabel.textContent = code;
    const endLabel = make('text', {x:xScale(2106.5), y:pts[pts.length - 1][1] + 12, 'text-anchor':'start', 'font-size':32, fill:color, 'fill-opacity':0.65}, g);
    
    
    endLabel.textContent = code;
  });
});
</script>
</body>
</html>
